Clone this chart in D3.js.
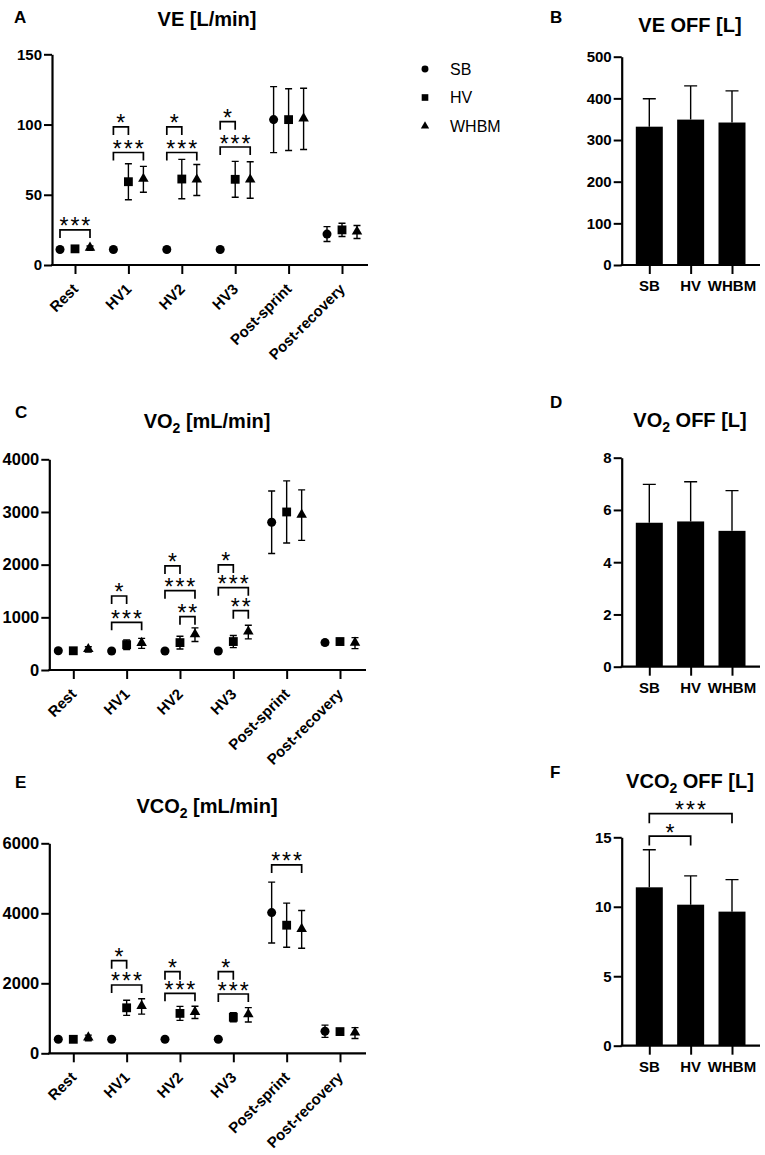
<!DOCTYPE html>
<html><head><meta charset="utf-8">
<script src="https://cdn.jsdelivr.net/npm/d3@7"></script>
<style>body{margin:0;background:#fff} svg text{font-family:"Liberation Sans",Arial,Helvetica,sans-serif}</style>
</head><body><svg id="c" width="765" height="1155"></svg>
<script>
// ---------- DATA ----------
const categories = ["Rest","HV1","HV2","HV3","Post-sprint","Post-recovery"];
const groups = ["SB","HV","WHBM"];

// Panel A: VE [L/min] (mean, SD)
const veSB   = [11, 11, 11, 11, 103.5, 22];
const veSBsd = [1, 1, 1, 1, 23.5, 5.3];
const veHV   = [11.5, 59.3, 61.2, 61, 103.5, 25];
const veHVsd = [1, 12.8, 14, 12.8, 22, 4.7];
const veWH   = [12, 61, 60.5, 60.5, 104, 23.5];
const veWHsd = [1.5, 9.2, 11, 13, 21.8, 4.6];
const veTicks = [0, 50, 100, 150];
const veBrackets = [[0,"SB","WHBM",25,"***"],[1,"SB","HV",98.3,"*"],[1,"SB","WHBM",80.1,"***"],
  [2,"SB","HV",98.3,"*"],[2,"SB","WHBM",80.1,"***"],[3,"SB","HV",102,"*"],[3,"SB","WHBM",84,"***"]];

// Panel C: VO2 [mL/min]
const vo2SB   = [365, 360, 360, 360, 2805, 520];
const vo2SBsd = [30, 30, 30, 30, 592, 40];
const vo2HV   = [365, 480, 520, 540, 3000, 540];
const vo2HVsd = [30, 90, 120, 115, 590, 60];
const vo2WH   = [390, 505, 670, 720, 2940, 510];
const vo2WHsd = [50, 95, 130, 130, 480, 105];
const vo2Ticks = [0, 1000, 2000, 3000, 4000];
const vo2Brackets = [[1,"SB","HV",1405,"*"],[1,"SB","WHBM",905,"***"],[2,"SB","HV",1975,"*"],
  [2,"SB","WHBM",1506,"***"],[2,"HV","WHBM",1012,"**"],[3,"SB","HV",1994,"*"],
  [3,"SB","WHBM",1563,"***"],[3,"HV","WHBM",1126,"**"]];

// Panel E: VCO2 [mL/min]
const vco2SB   = [400, 400, 400, 400, 4020, 630];
const vco2SBsd = [30, 30, 30, 30, 870, 175];
const vco2HV   = [400, 1300, 1140, 1030, 3660, 620];
const vco2HVsd = [30, 215, 200, 130, 630, 40];
const vco2WH   = [440, 1340, 1170, 1100, 3540, 580];
const vco2WHsd = [80, 220, 175, 205, 540, 155];
const vco2Ticks = [0, 2000, 4000, 6000];
const vco2Brackets = [[1,"SB","HV",2646,"*"],[1,"SB","WHBM",1952,"***"],[2,"SB","HV",2333,"*"],
  [2,"SB","WHBM",1714,"***"],[3,"SB","HV",2333,"*"],[3,"SB","WHBM",1694,"***"],[4,"SB","WHBM",5381,"***"]];

// Bar panels
const veOff = [332, 349, 342];
const veOffSd = [67, 81, 76];
const veOffTicks = [0, 100, 200, 300, 400, 500];
const vo2Off = [5.51, 5.56, 5.2];
const vo2OffSd = [1.47, 1.52, 1.54];
const vo2OffTicks = [0, 2, 4, 6, 8];
const vco2Off = [11.4, 10.15, 9.65];
const vco2OffSd = [2.7, 2.07, 2.3];
const vco2OffTicks = [0, 5, 10, 15];
const vco2OffBrackets = [["SB","HV",15.09,"*"],["SB","WHBM",16.7,"***"]];

// ---------- DRAW ----------
const svg = d3.select("#c");
const FONT = '"Liberation Sans",Arial,Helvetica,sans-serif';
const offsets = {SB:-15, HV:0, WHBM:15};
const shapes = {SB:d3.symbolCircle, HV:d3.symbolSquare, WHBM:d3.symbolTriangle};
const shapeSize = {SB:64, HV:78, WHBM:48};

function panelLabel(t, x, y){
  svg.append("text").attr("x",x).attr("y",y).attr("font-size",17).attr("font-weight","bold").text(t);
}
function title(parts, x, y){
  const t = svg.append("text").attr("x",x).attr("y",y).attr("text-anchor","middle")
    .attr("font-size",20).attr("font-weight","bold");
  t.append("tspan").text(parts[0]);
  if (parts.length > 1){
    t.append("tspan").attr("font-size",14).attr("dy",5).text(parts[1]);
    t.append("tspan").attr("dy",-5).text(parts[2]);
  }
}
function yAxis(ys, ticks, ax, fs){
  const g = svg.append("g").attr("transform",`translate(${ax},0)`)
    .call(d3.axisLeft(ys).tickValues(ticks).tickFormat(d3.format("d")).tickSize(8).tickSizeOuter(0).tickPadding(2));
  g.select(".domain").attr("stroke-width",2.2);
  g.selectAll(".tick line").attr("stroke-width",2);
  g.selectAll(".tick text").attr("font-size",fs).attr("font-weight","bold")
    .attr("font-family",FONT).attr("fill","#000");
  return g;
}
function stars(x, y, label){
  svg.append("text").attr("x",x + 0.9).attr("y",y + 4.5).attr("text-anchor","middle")
    .attr("font-size",23).attr("letter-spacing",2).text(label);
}
function bracket(x1, x2, y, label, drop){
  svg.append("path").attr("d",`M${x1},${y+drop}V${y}H${x2}V${y+drop}`)
    .attr("fill","none").attr("stroke","#000").attr("stroke-width",1.7);
  stars((x1+x2)/2, y, label);
}

function pointPanel(c){
  const ys = d3.scaleLinear().domain([0, c.ticks[c.ticks.length-1]]).range([c.y0, c.yTop]);
  const xs = d3.scalePoint().domain(categories).range([c.x0, c.x1]);
  yAxis(ys, c.ticks, c.ax, c.fs);
  const gx = svg.append("g").attr("transform",`translate(0,${c.y0})`)
    .call(d3.axisBottom(xs).tickSize(9).tickSizeOuter(0).tickFormat(""));
  gx.select(".domain").remove();
  gx.selectAll(".tick line").attr("stroke-width",2);
  svg.append("line").attr("x1",c.ax-1).attr("x2",c.axEnd).attr("y1",c.y0).attr("y2",c.y0)
    .attr("stroke","#000").attr("stroke-width",2.2);
  svg.selectAll(null).data(categories).enter().append("text")
    .attr("transform",d => `translate(${xs(d)+4},${c.y0+25}) rotate(-45)`)
    .attr("text-anchor","end").attr("font-size",15).attr("font-weight","bold").text(d => d);
  groups.forEach(gname => {
    const m = c.means[gname], s = c.sds[gname];
    const g = svg.append("g");
    categories.forEach((cat, i) => {
      const x = xs(cat) + offsets[gname];
      const yt = ys(m[i] + s[i]), yb = ys(m[i] - s[i]);
      g.append("path").attr("d",`M${x},${yt}V${yb}M${x-3.5},${yt}H${x+3.5}M${x-3.5},${yb}H${x+3.5}`)
        .attr("stroke","#000").attr("stroke-width",1.4).attr("fill","none");
      g.append("path").attr("d",d3.symbol().type(shapes[gname]).size(shapeSize[gname])())
        .attr("transform",`translate(${x},${ys(m[i]) + (gname==="WHBM"?-0.5:0)})`).attr("fill","#000");
    });
  });
  c.brackets.forEach(b => {
    const cx = xs(categories[b[0]]);
    bracket(cx + offsets[b[1]], cx + offsets[b[2]], ys(b[3]), b[4], 8);
  });
}

function barPanel(c){
  const ys = d3.scaleLinear().domain([0, c.ticks[c.ticks.length-1]]).range([c.y0, c.yTop]);
  const xs = d3.scalePoint().domain(groups).range([649.3, 732]);
  const bw = 27;
  groups.forEach((gname, i) => {
    const x = xs(gname), yt = ys(c.vals[i] + c.sds[i]);
    svg.append("path").attr("d",`M${x},${ys(c.vals[i])}V${yt}M${x-6.5},${yt}H${x+6.5}`)
      .attr("stroke","#000").attr("stroke-width",1.4).attr("fill","none");
  });
  svg.selectAll(null).data(groups).enter().append("rect")
    .attr("x",d => xs(d) - bw/2).attr("width",bw)
    .attr("y",(d,i) => ys(c.vals[i])).attr("height",(d,i) => c.y0 - ys(c.vals[i]))
    .attr("fill","#000");
  yAxis(ys, c.ticks, c.ax, 15);
  const gx = svg.append("g").attr("transform",`translate(0,${c.y0})`)
    .call(d3.axisBottom(xs).tickSize(9).tickSizeOuter(0).tickFormat(""));
  gx.select(".domain").remove();
  gx.selectAll(".tick line").attr("stroke-width",2);
  svg.append("line").attr("x1",c.ax-1).attr("x2",760).attr("y1",c.y0).attr("y2",c.y0)
    .attr("stroke","#000").attr("stroke-width",2.2);
  svg.selectAll(null).data(groups).enter().append("text")
    .attr("x",d => xs(d)).attr("y",c.y0 + 26).attr("text-anchor","middle")
    .attr("font-size",15).attr("font-weight","bold").text(d => d);
  (c.brackets || []).forEach(b => {
    bracket(xs(b[0]), xs(b[1]), ys(b[2]), b[3], 9.5);
  });
}

// Panel A
panelLabel("A", 14, 23);
title(["VE [L/min]"], 207, 26);
pointPanel({ticks:veTicks, y0:265, yTop:54.3, ax:52, axEnd:368, x0:75, x1:342, fs:15,
  means:{SB:veSB, HV:veHV, WHBM:veWH}, sds:{SB:veSBsd, HV:veHVsd, WHBM:veWHsd}, brackets:veBrackets});

// Legend
groups.forEach((gname, i) => {
  const y = 69 + i*28.5;
  svg.append("path").attr("d",d3.symbol().type(shapes[gname]).size(gname==="SB"?38:gname==="HV"?44:30)())
    .attr("transform",`translate(425,${y})`).attr("fill","#000");
  svg.append("text").attr("x",450).attr("y",y+5.5).attr("font-size",16).text(gname);
});

// Panel B
panelLabel("B", 550, 23);
title(["VE OFF [L]"], 690, 31.5);
barPanel({ticks:veOffTicks, y0:265, yTop:56.7, ax:621.7, vals:veOff, sds:veOffSd});

// Panel C
panelLabel("C", 15, 418);
title(["VO","2"," [mL/min]"], 207, 428);
pointPanel({ticks:vo2Ticks, y0:670, yTop:459.3, ax:49.3, axEnd:366, x0:73.3, x1:340, fs:16.5,
  means:{SB:vo2SB, HV:vo2HV, WHBM:vo2WH}, sds:{SB:vo2SBsd, HV:vo2HVsd, WHBM:vo2WHsd}, brackets:vo2Brackets});

// Panel D
panelLabel("D", 550, 408);
title(["VO","2"," OFF [L]"], 690, 426.5);
barPanel({ticks:vo2OffTicks, y0:666.7, yTop:457.7, ax:621.7, vals:vo2Off, sds:vo2OffSd});

// Panel E
panelLabel("E", 15, 788);
title(["VCO","2"," [mL/min]"], 207, 813);
pointPanel({ticks:vco2Ticks, y0:1053.3, yTop:843.3, ax:49.3, axEnd:366, x0:73.3, x1:340, fs:16.5,
  means:{SB:vco2SB, HV:vco2HV, WHBM:vco2WH}, sds:{SB:vco2SBsd, HV:vco2HVsd, WHBM:vco2WHsd}, brackets:vco2Brackets});

// Panel F
panelLabel("F", 550, 778);
title(["VCO","2"," OFF [L]"], 690, 788);
barPanel({ticks:vco2OffTicks, y0:1045.7, yTop:837.3, ax:621.7, vals:vco2Off, sds:vco2OffSd, brackets:vco2OffBrackets});
</script></body></html>
